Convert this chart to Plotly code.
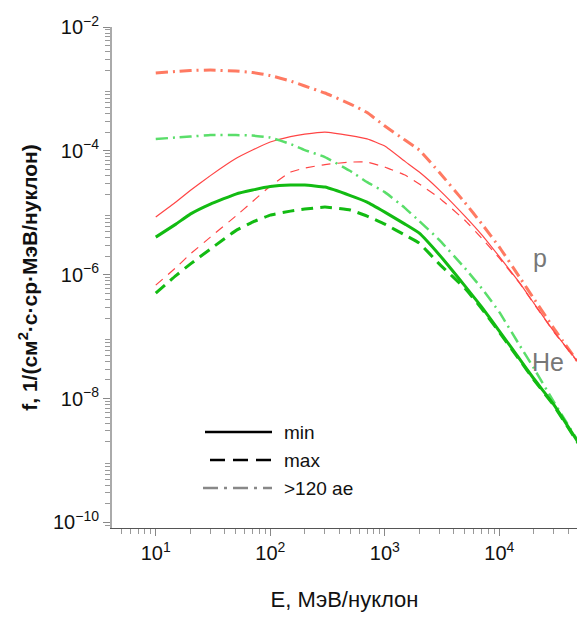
import plotly.graph_objects as go

# Energy grid, MeV/nucleon
E = [10, 15, 20, 30, 50, 70, 100, 150, 200, 300, 500, 700, 1000, 1500, 2000,
     3000, 5000, 7000, 10000, 15000, 20000, 30000, 50000]

# log10 of flux f, 1/(cm^2 s sr MeV/nucleon)
p_min_log = [-5.069, -4.827, -4.641, -4.400, -4.124, -3.987, -3.858, -3.769, -3.729, -3.696,
             -3.753, -3.806, -3.922, -4.170, -4.342, -4.633, -5.053, -5.352, -5.708,
             -6.128, -6.459, -6.919, -7.436]
p_max_log = [-6.168, -5.885, -5.667, -5.393, -5.053, -4.819, -4.569, -4.343, -4.278, -4.221,
             -4.181, -4.181, -4.262, -4.391, -4.536, -4.763, -5.120, -5.409, -5.733,
             -6.136, -6.467, -6.927, -7.444]
p_120_log = [-2.743, -2.719, -2.703, -2.695, -2.711, -2.735, -2.784, -2.872, -2.953, -3.066,
             -3.244, -3.381, -3.599, -3.826, -3.987, -4.350, -4.835, -5.175, -5.554,
             -6.039, -6.386, -6.871, -7.444]
he_min_log = [-5.393, -5.183, -5.021, -4.859, -4.698, -4.633, -4.577, -4.552, -4.552, -4.585,
              -4.722, -4.827, -4.989, -5.183, -5.328, -5.680, -6.180, -6.520, -6.910,
              -7.360, -7.680, -8.100, -8.737]
he_max_log = [-6.297, -6.015, -5.829, -5.586, -5.288, -5.150, -5.037, -4.973, -4.940, -4.908,
              -4.956, -5.053, -5.183, -5.360, -5.490, -5.829, -6.220, -6.545, -6.930,
              -7.375, -7.696, -8.117, -8.753]
he_120_log = [-3.809, -3.785, -3.769, -3.745, -3.745, -3.753, -3.785, -3.890, -3.987, -4.100,
              -4.326, -4.504, -4.666, -4.924, -5.134, -5.441, -5.893, -6.217, -6.604,
              -7.137, -7.509, -8.058, -8.721]

x_ticks = [10, 100, 1000, 10000]
x_ticktext = ["10<sup>1</sup>", "10<sup>2</sup>", "10<sup>3</sup>", "10<sup>4</sup>"]
y_exps = [-2, -4, -6, -8, -10]
y_ticktext = ["10<sup>\u2212%d</sup>" % (-e) for e in y_exps]

legend_labels = ["min", "max", ">120 ae"]

FONT = "Liberation Sans, Arial, sans-serif"

def lin(vals):
    return [10 ** v for v in vals]

fig = go.Figure()
series = [
    (p_120_log, "#ff7a62", 3, "12px,5px,2px,5px"),
    (p_min_log, "#ff4545", 1.2, "solid"),
    (p_max_log, "#ff4545", 1.2, "9px,7px"),
    (he_120_log, "#5ade6a", 2.5, "12px,5px,2px,5px"),
    (he_min_log, "#12bb12", 3, "solid"),
    (he_max_log, "#12bb12", 3, "12px,7px"),
]
for vals, col, w, dash in series:
    fig.add_trace(go.Scatter(x=E, y=lin(vals), mode="lines", showlegend=False,
                             line=dict(color=col, width=w, dash=dash, shape="spline", smoothing=0.3),
                             hoverinfo="skip"))

minor_x = [m * 10 ** d for d in range(0, 5) for m in range(2, 10)]
minor_y = [m * 10.0 ** d for d in range(-11, -2) for m in range(2, 10)]

fig.update_xaxes(type="log", range=[0.618, 4.678], tickvals=x_ticks, ticktext=x_ticktext,
                 ticks="outside", ticklen=7, tickcolor="#888", tickwidth=1, automargin=False,
                 showline=True, linecolor="#555", linewidth=1.2, showgrid=False, zeroline=False,
                 minor=dict(tickvals=minor_x, ticks="outside", ticklen=5, tickcolor="#999", showgrid=False),
                 tickfont=dict(family=FONT, size=20, color="#111"),
                 title=dict(text="E, МэВ/нуклон", font=dict(family=FONT, size=22, color="#111"), standoff=28))
fig.update_yaxes(type="log", range=[-10.09, -2.0], tickvals=[10.0 ** e for e in y_exps], ticktext=y_ticktext,
                 ticks="outside", ticklen=7, tickcolor="#888", tickwidth=1, automargin=False,
                 showline=True, linecolor="#aaa", linewidth=2, showgrid=False, zeroline=False,
                 minor=dict(tickvals=minor_y, ticks="outside", ticklen=5, tickcolor="#999", showgrid=False),
                 tickfont=dict(family=FONT, size=20, color="#111"),
                 title=dict(text="<b>f, 1/(см<sup>2</sup>·с·ср·МэВ/нуклон)</b>",
                            font=dict(family=FONT, size=21, color="#111"), standoff=10))

# legend drawn as key lines + text
def px(xp):
    return (xp - 112) / 465.0
def py(yp):
    return (528 - yp) / 501.0

leg = [((205, 272), 432, "black", 2.5, "solid"),
       ((210, 272), 460, "black", 2.5, "15px,8px"),
       ((203, 272), 488, "#888", 2.5, "15px,6px,3px,6px")]
for (x0, x1), yy, col, w, dash in leg:
    fig.add_shape(type="line", xref="paper", yref="paper", x0=px(x0), x1=px(x1), y0=py(yy), y1=py(yy),
                  line=dict(color=col, width=w, dash=dash))
for (x0x1, yy, *_), lab in zip(leg, legend_labels):
    fig.add_annotation(xref="paper", yref="paper", x=px(282), y=py(yy), text=lab, showarrow=False,
                       xanchor="left", yanchor="middle", font=dict(family=FONT, size=19, color="#111"))

fig.add_annotation(xref="paper", yref="paper", x=px(540), y=py(258), text="p", showarrow=False,
                   xanchor="center", yanchor="middle", font=dict(family=FONT, size=25, color="#777"))
fig.add_annotation(xref="paper", yref="paper", x=px(548), y=py(362), text="He", showarrow=False,
                   xanchor="center", yanchor="middle", font=dict(family=FONT, size=25, color="#777"))

fig.update_layout(width=577, height=630, margin=dict(l=112, r=0, t=27, b=102),
                  plot_bgcolor="white", paper_bgcolor="white", showlegend=False)
fig.write_html("out.html", config={"displayModeBar": False},
               post_script="document.body.style.margin='0';")
